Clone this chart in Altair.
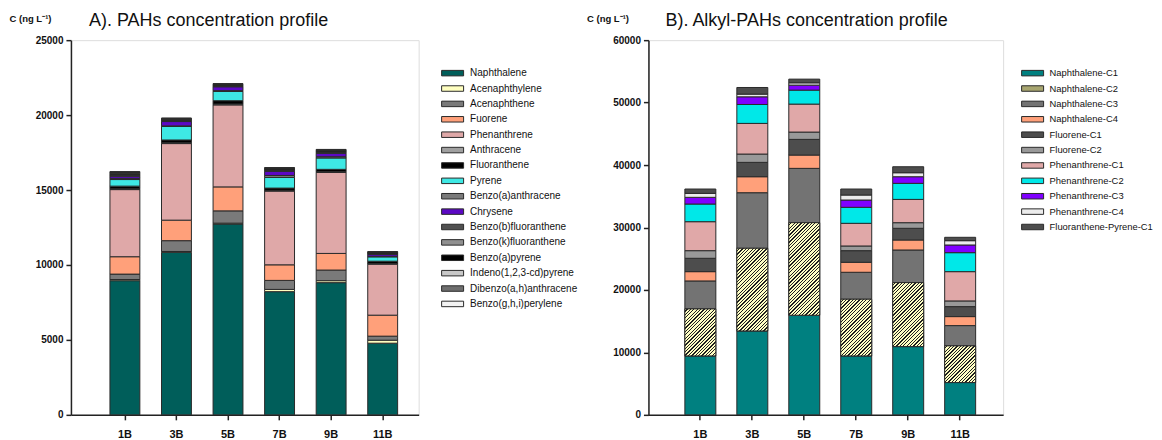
import altair as alt
import pandas as pd

sites = ["1B", "3B", "5B", "7B", "9B", "11B"]

# ---------------- A) PAHs (ng/L) ----------------
pah_names = ["Naphthalene", "Acenaphthylene", "Acenaphthene", "Fuorene", "Phenanthrene",
             "Anthracene", "Fluoranthene", "Pyrene", "Benzo(a)anthracene", "Chrysene",
             "Benzo(b)fluoranthene", "Benzo(k)fluoranthene", "Benzo(a)pyrene",
             "Indeno(1,2,3-cd)pyrene", "Dibenzo(a,h)anthracene", "Benzo(g,h,i)perylene"]
naphthalene = [8950, 10840, 12730, 8220, 8820, 4780]
acenaphthylene = [80, 60, 60, 150, 130, 200]
acenaphthene = [360, 720, 820, 600, 710, 270]
fuorene = [1160, 1370, 1600, 1040, 1110, 1400]
phenanthrene = [4480, 5110, 5470, 4920, 5400, 3400]
anthracene = [60, 60, 60, 50, 60, 50]
fluoranthene = [170, 180, 220, 150, 150, 150]
pyrene = [440, 900, 620, 710, 760, 290]
benzo_a_anthracene = [80, 40, 50, 130, 80, 40]
chrysene = [140, 290, 260, 280, 230, 130]
benzo_b_fluoranthene = [60, 60, 50, 60, 60, 40]
benzo_k_fluoranthene = [50, 40, 40, 40, 40, 30]
benzo_a_pyrene = [80, 60, 60, 70, 70, 50]
indeno_pyrene = [50, 30, 20, 30, 30, 20]
dibenzo_anthracene = [40, 20, 20, 20, 30, 20]
benzo_ghi_perylene = [30, 20, 20, 30, 30, 20]
pah_values = [naphthalene, acenaphthylene, acenaphthene, fuorene, phenanthrene, anthracene,
              fluoranthene, pyrene, benzo_a_anthracene, chrysene, benzo_b_fluoranthene,
              benzo_k_fluoranthene, benzo_a_pyrene, indeno_pyrene, dibenzo_anthracene,
              benzo_ghi_perylene]
pah_colors = ["#005e5a", "#ffffc0", "#7a7a7a", "#ffa07a", "#dfa8a8", "#a0a0a0", "#000000",
              "#3ee8e4", "#7a7a7a", "#5c08c4", "#505050", "#909090", "#000000", "#c8c8c8",
              "#6e6e6e", "#f2f2f2"]

# ---------------- B) Alkyl-PAHs (ng/L) ----------------
alk_names = ["Naphthalene-C1", "Naphthalene-C2", "Naphthalene-C3", "Naphthalene-C4",
             "Fluorene-C1", "Fluorene-C2", "Phenanthrene-C1", "Phenanthrene-C2",
             "Phenanthrene-C3", "Phenanthrene-C4", "Fluoranthene-Pyrene-C1"]
naph_c1 = [9440, 13440, 15950, 9440, 10930, 5170]
naph_c2 = [7520, 13230, 14820, 9070, 10240, 5870]
naph_c3 = [4480, 8900, 8700, 4320, 5230, 3250]
naph_c4 = [1490, 2560, 2130, 1600, 1600, 1440]
fluo_c1 = [2140, 2300, 2510, 1860, 1870, 1600]
fluo_c2 = [1220, 1330, 1170, 750, 900, 910]
phen_c1 = [4640, 4910, 4480, 3630, 3730, 4690]
phen_c2 = [2830, 3030, 2240, 2560, 2570, 3040]
phen_c3 = [1070, 1230, 800, 1170, 1060, 1230]
phen_c4 = [640, 430, 370, 800, 640, 690]
flpy_c1 = [690, 1060, 590, 960, 960, 540]
alk_values = [naph_c1, naph_c2, naph_c3, naph_c4, fluo_c1, fluo_c2, phen_c1, phen_c2,
              phen_c3, phen_c4, flpy_c1]
alk_colors = ["#008080", "#a8a670", "#737373", "#ffa07a", "#4d4d4d", "#999999", "#e0a8a8",
              "#00e8e8", "#8000ff", "#ececec", "#4d4d4d"]

FONT = "Liberation Sans"
STROKE = "#2a2a2a"


def stacked(names, values):
    rows = []
    for i, s in enumerate(sites):
        base = 0
        for n, v in zip(names, values):
            rows.append({"site": s, "series": n, "y0": base, "y1": base + v[i]})
            base += v[i]
    return pd.DataFrame(rows)


def hatch(w, h, period=3.4, frac=0.38):
    c = (w + h) / (w * w + h * h)
    n = max(1, round((w + h) / period))
    stops = []
    for k in range(n):
        a, b, e = k / n, (k + 1 - frac) / n, (k + 1) / n
        stops += [alt.GradientStop(offset=a, color="#ffffc4"),
                  alt.GradientStop(offset=b, color="#ffffc4"),
                  alt.GradientStop(offset=b, color="#1e1e1e"),
                  alt.GradientStop(offset=e, color="#1e1e1e")]
    return alt.Gradient(gradient="linear", stops=stops, x1=0, y1=0, x2=c * w, y2=c * h)


def panel(names, values, colors, ymax, ystep, pin, pout, align, legx, legy, lfs, loff):
    df = stacked(names, values)
    xs = alt.X("site:N", sort=sites,
               scale=alt.Scale(domain=sites, paddingInner=pin, paddingOuter=pout, align=align),
               axis=alt.Axis(title=None, labelAngle=0, labelFont=FONT, labelFontWeight="bold",
                             labelFontSize=11, labelPadding=9, labelColor="#111",
                             tickSize=5, tickWidth=1.5, tickColor="#222",
                             domainColor="#222", domainWidth=1.5))
    ys = alt.Y("y0:Q", scale=alt.Scale(domain=[0, ymax], nice=False),
               axis=alt.Axis(values=list(range(0, ymax + 1, ystep)), format="d",
                             title="C (ng L⁻¹)", titleAngle=0, titleAlign="left",
                             titleBaseline="middle", titleX=-62, titleY=-22,
                             titleFont=FONT, titleFontSize=9.5, titleFontWeight="bold",
                             titleColor="#111",
                             grid=False, labelFont=FONT, labelFontWeight="bold",
                             labelFontSize=10, labelColor="#111", labelPadding=3,
                             tickSize=5, tickWidth=1.5, tickColor="#222",
                             domainColor="#222", domainWidth=1.5))
    base = alt.Chart(df).mark_bar(stroke=STROKE, strokeWidth=1).encode(
        x=xs, y=ys, y2="y1:Q",
        color=alt.Color("series:N", sort=names,
                        scale=alt.Scale(domain=names, range=colors),
                        legend=alt.Legend(title=None, orient="none", legendX=legx, legendY=legy,
                                          symbolType="M-2,-0.5H2V0.5H-2Z", symbolSize=121,
                                          symbolStrokeColor=STROKE, symbolStrokeWidth=1,
                                          labelFont=FONT, labelFontSize=lfs,
                                          labelColor="#111", labelOffset=loff,
                                          rowPadding=4.4, labelLimit=300)))
    return base, df, xs, ys


H = 375
# left panel
WL = 348
left_base, _, _, _ = panel(pah_names, pah_values, pah_colors, 25000, 5000,
                           0.42, 0.582, 0.65, WL + 28, 27, 10, 11.5)
left = alt.layer(left_base).properties(
    width=WL, height=H,
    title=alt.TitleParams("A). PAHs concentration profile", anchor="start", dx=80,
                          font=FONT, fontSize=18, fontWeight="normal", color="#111",
                          offset=-17))

# right panel
WR = 355
right_base, dfr, xr, yr = panel(alk_names, alk_values, alk_colors, 60000, 10000,
                                0.404, 0.615, 0.57, WR + 23.5, 27, 9.4, 11)
bw = 52 * (1 - 0.404)
layers = [right_base]
for i, s in enumerate(sites):
    h = naph_c2[i] * H / 60000
    sub = dfr[(dfr.site == s) & (dfr.series == "Naphthalene-C2")]
    layers.append(alt.Chart(sub).mark_bar(fill=hatch(bw, h), stroke=STROKE, strokeWidth=1)
                  .encode(x=xr, y=yr, y2="y1:Q"))
right = alt.layer(*layers).properties(
    width=WR, height=H,
    title=alt.TitleParams("B). Alkyl-PAHs concentration profile", anchor="start", dx=79,
                          font=FONT, fontSize=18, fontWeight="normal", color="#111",
                          offset=-17))

chart = alt.hconcat(left, right, spacing=7).resolve_scale(
    color="independent", x="independent", y="independent"
).resolve_legend(color="independent").properties(
    padding={"left": 0, "top": 3, "right": 0, "bottom": 0}
).configure_view(stroke=None).configure(background="white")

chart.save("out.html", embed_options={"renderer": "svg", "actions": False})
